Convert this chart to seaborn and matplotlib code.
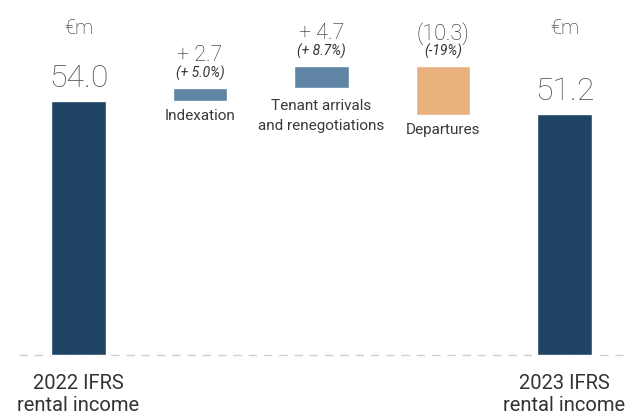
import numpy as np
import pandas as pd
import matplotlib
matplotlib.use('Agg')
import matplotlib.pyplot as plt
import seaborn as sns

# data
steps = ['2022 IFRS\nrental income', 'Indexation', 'Tenant arrivals\nand renegotiations',
         'Departures', '2023 IFRS\nrental income']
values = [54.0, 2.7, 4.7, -10.3, 51.2]
kinds = ['total', 'up', 'up', 'down', 'total']
value_labels = ['54.0', '+ 2.7', '+ 4.7', '(10.3)', '51.2']
pct_labels = ['', '(+ 5.0%)', '(+ 8.7%)', '(-19%)', '']
unit_label = '€m'

colors = {'total': '#1f4466', 'up': '#6084a3', 'down': '#e8b07d'}

# waterfall: bottom and height of every bar
bases, heights = [], []
running = 0.0
for v, k in zip(values, kinds):
    if k == 'total':
        bases.append(0.0)
        heights.append(v)
        running = v
    elif v >= 0:
        bases.append(running)
        heights.append(v)
        running += v
    else:
        running += v
        bases.append(running)
        heights.append(-v)

df = pd.DataFrame({'step': steps, 'height': heights, 'kind': kinds})

sns.set_theme(style='white')
plt.rcParams['font.family'] = ['Roboto', 'DejaVu Sans']

fig = plt.figure(figsize=(6.34, 4.14), dpi=100)
ax = fig.add_axes([0, 0, 1, 1])

# baseline
ax.hlines(0, -0.49, 4.48, colors='#cfcfcf', linewidth=1, linestyles=(0, (6, 5)), zorder=0)

sns.barplot(data=df, x='step', y='height', hue='step', palette=[colors[k] for k in kinds],
            width=0.45, saturation=1, errorbar=None, legend=False, ax=ax, zorder=2)

# lift the floating bars onto their bases
for p in ax.patches:
    i = int(round(p.get_x() + p.get_width() / 2))
    p.set_y(bases[i])

ax.set_xlim(-0.646, 4.572)
ax.set_ylim(-12.34, 75.74)
ax.axis('off')

txt = '#333333'
light = dict(fontweight='light')
px = 0.72  # points per pixel at 100 dpi
for i, (k, b, h) in enumerate(zip(kinds, bases, heights)):
    top = b + h
    nl = steps[i].count('\n')
    if k == 'total':
        ax.annotate(value_labels[i], (i, top), xytext=(0, 15 * px), textcoords='offset points',
                    ha='center', va='baseline', fontsize=23, color='#555555', **light)
        ax.text(i, 68.5, unit_label, ha='center', va='baseline', fontsize=14.5, color='#222222', **light)
        ax.annotate(steps[i], (i, 0), xytext=(0, -(31 + 24 * nl) * px), textcoords='offset points',
                    ha='center', va='baseline', fontsize=14.5, color=txt, linespacing=1.22)
    else:
        ax.annotate(value_labels[i], (i, top), xytext=(0, 28 * px), textcoords='offset points',
                    ha='center', va='baseline', fontsize=15.5, color='#222222', **light)
        ax.annotate(pct_labels[i], (i, top), xytext=(0, 12 * px), textcoords='offset points',
                    ha='center', va='baseline', fontsize=10, color='#333333', style='italic')
        ax.annotate(steps[i], (i, b), xytext=(0, -(18 + 23 * nl) * px), textcoords='offset points',
                    ha='center', va='baseline', fontsize=11, color='#3a3a3a', linespacing=1.6)

fig.savefig('out.png', dpi=100)
